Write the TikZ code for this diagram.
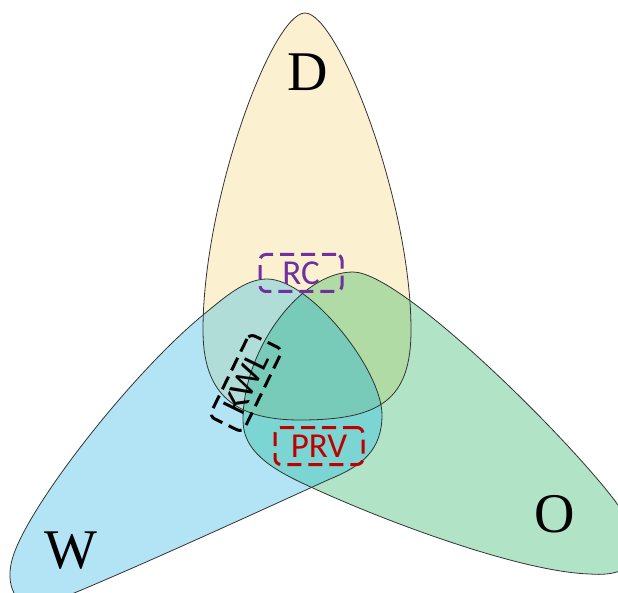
\documentclass[tikz,border=0pt]{standalone}
\usepackage{fontspec}
\setmainfont{Liberation Serif}
\newfontfamily\labfont{Carlito}
\definecolor{Dcol}{HTML}{FBF0D0}
\definecolor{Wcol}{HTML}{B3E4F6}
\definecolor{Ocol}{HTML}{B1E3C7}
\definecolor{DWcol}{HTML}{B0DDD7}
\definecolor{DOcol}{HTML}{B1DBA5}
\definecolor{WOcol}{HTML}{7BD5D3}
\definecolor{DWOcol}{HTML}{79CBB9}
\definecolor{rcpurple}{HTML}{7030A0}
\definecolor{prvred}{HTML}{C00000}
\definecolor{edgecol}{HTML}{333333}
\begin{document}
\begin{tikzpicture}[x=1pt,y=-1pt,
  outline/.style={draw=edgecol,line width=0.8pt},
  setlabel/.style={font=\fontsize{56}{56}\selectfont,inner sep=0pt},
  tagbox/.style={draw,line width=3pt,dash pattern=on 14pt off 7pt,rounded corners=6pt,
     inner sep=0pt,font=\labfont\fontsize{35}{35}\selectfont},
]
\useasboundingbox (0,0) rectangle (618,593);
\clip (0,0) rectangle (618,593);
\def\Dp{(300,420) .. controls (380,420) and (411,400) .. (411,330)
  .. controls (411,200) and (338,13) .. (305,13)
  .. controls (272,13) and (203,200) .. (203,330)
  .. controls (203,390) and (230,420) .. (300,420) -- cycle}
\def\Wp{(12,560) .. controls (25,510) and (130,375) .. (203,315)
  .. controls (225,297) and (245,279) .. (267,279)
  .. controls (310,279) and (382,370) .. (382,415)
  .. controls (382,450) and (362,466) .. (330,479)
  .. controls (240,520) and (120,575) .. (45,605)
  .. controls (20,612) and (4,590) .. (12,560) -- cycle}
\def\Op{(353,272) .. controls (400,272) and (560,430) .. (612,497)
  .. controls (652,548) and (640,578) .. (590,574)
  .. controls (520,572) and (380,520) .. (300,482)
  .. controls (260,463) and (243,445) .. (243,420)
  .. controls (243,350) and (300,272) .. (353,272) -- cycle}
% single sets
\fill[Dcol] \Dp;
\fill[Wcol] \Wp;
\fill[Ocol] \Op;
% pairwise and triple overlaps
\begin{scope}\clip \Dp; \fill[DWcol] \Wp; \end{scope}
\begin{scope}\clip \Dp; \fill[DOcol] \Op; \end{scope}
\begin{scope}\clip \Wp; \fill[WOcol] \Op; \end{scope}
\begin{scope}\clip \Dp; \clip \Wp; \fill[DWOcol] \Op; \end{scope}
% outlines
\draw[outline] \Dp;
\draw[outline] \Wp;
\draw[outline] \Op;
% labels
\node[setlabel] (D) at (308,72) {D};
\node[setlabel] (W) at (71,551) {W};
\node[setlabel] (O) at (555,514) {O};
\node[tagbox,draw=rcpurple,text=rcpurple,minimum width=82pt,minimum height=37pt] (RC) at (301,273) {RC};
\node[tagbox,draw=prvred,text=prvred,minimum width=88pt,minimum height=37pt] (PRV) at (319,446) {PRV};
\node[tagbox,draw=black,text=black,minimum width=92pt,minimum height=37pt,rotate=64] (KWL) at (246,383) {KWL};
\end{tikzpicture}
\end{document}
